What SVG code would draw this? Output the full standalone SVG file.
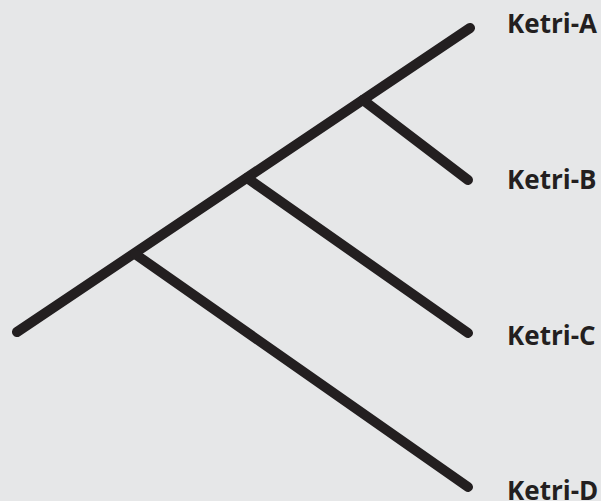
<svg xmlns="http://www.w3.org/2000/svg" width="601" height="501" viewBox="0 0 601 501">
<style>
.ln{stroke:#231f20;stroke-width:10;stroke-linecap:round;fill:none}
.lb{font-family:"Open Sans","Liberation Sans",sans-serif;font-weight:700;font-size:26px;fill:#231f20}
</style>
<rect width="601" height="501" fill="#e6e7e8"/>
<g id="connectors">
<line class="ln" x1="17" y1="332" x2="470" y2="28"/>
<line class="ln" x1="363" y1="100" x2="468" y2="180"/>
<line class="ln" x1="247" y1="178" x2="468" y2="333"/>
<line class="ln" x1="135" y1="254" x2="468" y2="487"/>
</g>
<g id="ketri-a"><text class="lb" x="507" y="33">Ketri-A</text></g>
<g id="ketri-b"><text class="lb" x="507" y="189">Ketri-B</text></g>
<g id="ketri-c"><text class="lb" x="507" y="345">Ketri-C</text></g>
<g id="ketri-d"><text class="lb" x="507" y="500">Ketri-D</text></g>
</svg>
